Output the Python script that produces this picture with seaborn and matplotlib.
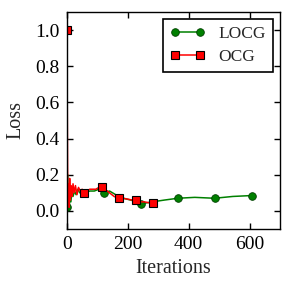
import numpy as np
import pandas as pd
import seaborn as sns
import matplotlib
matplotlib.use('Agg')
import matplotlib.pyplot as plt

# LOCG curve (iteration, loss)
locg_iter = [0, 2, 4, 6, 8, 10, 13, 16, 20, 25, 30, 36, 42, 50, 60, 75, 90, 105, 122,
             140, 160, 185, 210, 245, 280, 320, 364, 420, 485, 545, 607]
locg_loss = [0.02, 0.20, 0.01, 0.15, 0.03, 0.12, 0.05, 0.10, 0.08, 0.11, 0.09, 0.12, 0.10,
             0.11, 0.10, 0.11, 0.11, 0.12, 0.10, 0.11, 0.09, 0.07, 0.06, 0.04, 0.05, 0.06,
             0.07, 0.075, 0.07, 0.08, 0.085]
locg_marks = [0, 122, 245, 364, 485, 607]

# OCG curve (iteration, loss)
ocg_iter = [0, 1, 2, 3, 5, 7, 9, 11, 14, 17, 20, 24, 28, 33, 38, 44, 50, 56, 65, 75, 85,
            95, 105, 115, 125, 140, 155, 170, 185, 200, 215, 226, 240, 255, 270, 282]
ocg_loss = [1.0, 0.6, 0.25, 0.05, 0.15, 0.02, 0.18, 0.06, 0.14, 0.08, 0.15, 0.10, 0.14,
            0.09, 0.13, 0.11, 0.12, 0.10, 0.11, 0.12, 0.12, 0.12, 0.13, 0.13, 0.12, 0.10,
            0.08, 0.07, 0.07, 0.065, 0.06, 0.06, 0.05, 0.05, 0.045, 0.045]
ocg_marks = [0, 56, 115, 170, 226, 282]

sns.set_style('ticks')
plt.rcParams['font.family'] = ['Liberation Serif', 'DejaVu Serif']
plt.rcParams['xtick.direction'] = 'in'
plt.rcParams['ytick.direction'] = 'in'

fig = plt.figure(figsize=(2.91, 2.91), dpi=100)
ax = fig.add_axes([0.230, 0.213, 0.732, 0.746])

sns.lineplot(x=locg_iter, y=locg_loss, ax=ax, color='#008000', lw=1.1,
             marker='o', ms=5.5, mec='#004000', mew=0.6,
             markevery=[locg_iter.index(v) for v in locg_marks], label='LOCG')
sns.lineplot(x=ocg_iter, y=ocg_loss, ax=ax, color='#ff0000', lw=1.1,
             marker='s', ms=6, mec='black', mew=0.8,
             markevery=[ocg_iter.index(v) for v in ocg_marks], label='OCG')

ax.set_xlim(0, 700)
ax.set_ylim(-0.1, 1.1)
ax.set_xticks([0, 200, 400, 600])
ax.set_yticks([0.0, 0.2, 0.4, 0.6, 0.8, 1.0])
ax.set_yticklabels(['0.0', '0.2', '0.4', '0.6', '0.8', '1.0'])
ax.tick_params(top=True, right=True, length=4, width=1, labelsize=14, colors='black', pad=5)
for s in ax.spines.values():
    s.set_linewidth(1)
    s.set_color('black')
ax.set_xlabel('Iterations', fontsize=14.5, labelpad=4)
ax.set_ylabel('Loss', fontsize=14.5, labelpad=7)

leg = ax.legend(loc='upper right', numpoints=2, fontsize=12.5, frameon=True, fancybox=False,
                edgecolor='black', framealpha=1, borderpad=0.4, handlelength=2.0,
                borderaxespad=0.4, labelspacing=0.4)
leg.get_frame().set_linewidth(1.2)

fig.savefig('out.png', dpi=100)
